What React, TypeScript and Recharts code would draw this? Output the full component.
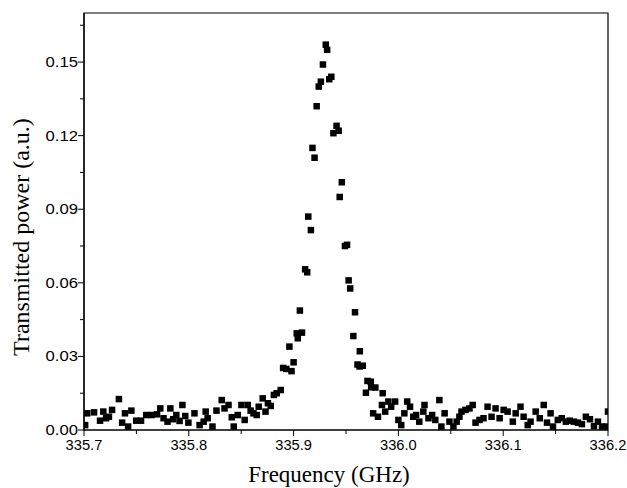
import { Label, ReferenceArea, Scatter, ScatterChart, XAxis, YAxis } from "recharts";

// Frequency (GHz) / transmitted power (a.u.)
const FREQ_LEFT = [
  335.7011, 335.7031, 335.7096, 335.7153, 335.7184, 335.7211, 335.7238, 335.7268, 335.7333, 335.7364,
  335.7391, 335.7421, 335.7452, 335.7498, 335.7544, 335.7594, 335.7644, 335.7697, 335.7728, 335.7759,
  335.7797, 335.7824, 335.7851, 335.7881, 335.7912, 335.7939, 335.7966, 335.7996, 335.8054, 335.8103,
  335.8142, 335.8161, 335.818, 335.8226, 335.8264, 335.8314, 335.8341, 335.8379, 335.841, 335.8429,
  335.8467, 335.8502, 335.8533, 335.8563, 335.859, 335.8617, 335.8648, 335.8667, 335.8705, 335.8732,
  335.8755, 335.8782, 335.8812, 335.8839, 335.8877,
];
const POWER_LEFT = [
  0.002, 0.0068, 0.0072, 0.0038, 0.0075, 0.0048, 0.0054, 0.0082, 0.0126, 0.003,
  0.0068, 0.0014, 0.0079, 0.0038, 0.0038, 0.0061, 0.0061, 0.0064, 0.0088, 0.0048,
  0.0034, 0.0088, 0.0044, 0.0061, 0.0037, 0.0102, 0.0057, 0.003, 0.0068, 0.002,
  0.0034, 0.0075, 0.0048, 0.0014, 0.0079, 0.0122, 0.0088, 0.0102, 0.0052, 0.0014,
  0.0061, 0.0102, 0.0041, 0.0102, 0.0079, 0.0068, 0.0061, 0.0095, 0.0129, 0.0075,
  0.0109, 0.0098, 0.0143, 0.015, 0.0163,
];

const FREQ_PEAK = [
  335.89, 335.893, 335.896, 335.898, 335.9, 335.903, 335.904, 335.906, 335.908, 335.911,
  335.913, 335.914, 335.9165, 335.918, 335.92, 335.922, 335.924, 335.926, 335.928, 335.9307,
  335.932, 335.934, 335.936, 335.938, 335.941, 335.943, 335.944, 335.946, 335.949, 335.951,
  335.9525, 335.954, 335.957, 335.9586, 335.961, 335.963, 335.9632, 335.966, 335.969, 335.9705,
  335.9736, 335.974, 335.978, 335.985,
];
const POWER_PEAK = [
  0.0253, 0.0249, 0.034, 0.024, 0.0276, 0.0394, 0.0374, 0.0487, 0.0397, 0.0655,
  0.0643, 0.087, 0.0815, 0.115, 0.111, 0.132, 0.14, 0.142, 0.149, 0.1571,
  0.155, 0.143, 0.144, 0.121, 0.124, 0.122, 0.095, 0.101, 0.075, 0.0755,
  0.061, 0.0577, 0.0383, 0.048, 0.0267, 0.0259, 0.0321, 0.0262, 0.0152, 0.02,
  0.0197, 0.0174, 0.0173, 0.015,
];

const FREQ_RIGHT = [
  335.9759, 335.9805, 335.9843, 335.9874, 335.9904, 335.9931, 335.9969, 336.0, 336.0027, 336.0057,
  336.0084, 336.0111, 336.0142, 336.0169, 336.0199, 336.0238, 336.0249, 336.0287, 336.0322, 336.0352,
  336.0391, 336.041, 336.0441, 336.0487, 336.0525, 336.0556, 336.0582, 336.0602, 336.064, 336.0678,
  336.0709, 336.0736, 336.0774, 336.0812, 336.0851, 336.0889, 336.0927, 336.0966, 336.1004, 336.1042,
  336.1092, 336.1119, 336.1165, 336.1195, 336.1234, 336.1261, 336.131, 336.1349, 336.1387, 336.1418,
  336.1452, 336.1475, 336.1521, 336.1559, 336.1598, 336.1636, 336.1674, 336.1713, 336.1751, 336.1789,
  336.1828, 336.1866, 336.1904, 336.1943, 336.1981, 336.2,
];
const POWER_RIGHT = [
  0.0068, 0.0054, 0.0102, 0.0075, 0.0116, 0.0095, 0.0116, 0.0041, 0.002, 0.0068,
  0.0116, 0.0095, 0.0054, 0.0061, 0.0034, 0.0075, 0.0102, 0.0048, 0.0061, 0.0041,
  0.0122, 0.0014, 0.0068, 0.0034, 0.0014, 0.0034, 0.0054, 0.0075, 0.0082, 0.0088,
  0.0102, 0.003, 0.0041, 0.0048, 0.0095, 0.0054, 0.0088, 0.0048, 0.0082, 0.0075,
  0.0034, 0.0068, 0.0095, 0.0054, 0.002, 0.0034, 0.0075, 0.0048, 0.0102, 0.003,
  0.0068, 0.0014, 0.0041, 0.0048, 0.0034, 0.0038, 0.0034, 0.003, 0.0024, 0.0054,
  0.0044, 0.0016, 0.0034, 0.0014, 0.0014, 0.0075,
];

const X_TICKS = [335.7, 335.75, 335.8, 335.85, 335.9, 335.95, 336.0, 336.05, 336.1, 336.15, 336.2];
const Y_TICKS = [0, 0.015, 0.03, 0.045, 0.06, 0.075, 0.09, 0.105, 0.12, 0.135, 0.15, 0.165];

const freqs = [...FREQ_LEFT, ...FREQ_PEAK, ...FREQ_RIGHT];
const powers = [...POWER_LEFT, ...POWER_PEAK, ...POWER_RIGHT];
const punkte = freqs.map((f, i) => ({ f, p: powers[i] }));

const SANS = "'Liberation Sans', Arial, sans-serif";
const SERIF = "'Liberation Serif', 'Times New Roman', serif";

function Quadrat(props: any) {
  const s = 6.5;
  return <rect x={props.cx - s / 2} y={props.cy - s / 2} width={s} height={s} fill="#000" />;
}

function XTick({ x, y, payload, index }: any) {
  const gross = index % 2 === 0;
  return (
    <g>
      <line x1={x} x2={x} y1={y} y2={y + (gross ? 6 : 4)} stroke="#000" strokeWidth={1} />
      {gross && (
        <text
          transform={`translate(${x},${y + 20}) scale(1.05,1)`}
          textAnchor="middle"
          fontFamily={SANS}
          fontSize={14}
          fill="#000"
        >
          {payload.value.toFixed(1)}
        </text>
      )}
    </g>
  );
}

function YTick({ x, y, payload, index }: any) {
  const gross = index % 2 === 0;
  return (
    <g>
      <line x1={x - (gross ? 6 : 4)} x2={x} y1={y} y2={y} stroke="#000" strokeWidth={1} />
      {gross && (
        <text
          transform={`translate(${x - 6},${y + 5}) scale(1.15,1)`}
          textAnchor="end"
          fontFamily={SANS}
          fontSize={14.5}
          fill="#000"
        >
          {payload.value.toFixed(2)}
        </text>
      )}
    </g>
  );
}

export default function App() {
  return (
    <div style={{ position: "absolute", left: 0, top: 0, background: "#fff" }}>
      <ScatterChart width={627} height={488} margin={{ top: 13, right: 19, bottom: 0, left: 0 }}>
        <XAxis
          dataKey="f"
          type="number"
          domain={[335.7, 336.2]}
          ticks={X_TICKS}
          interval={0}
          height={58}
          tickSize={0}
          tickMargin={0}
          tickLine={false}
          tick={<XTick />}
          axisLine={{ stroke: "#000", strokeWidth: 1.2 }}
          allowDataOverflow
        >
          <Label
            content={() => (
              <text x={329} y={482} textAnchor="middle" fontFamily={SERIF} fontSize={23} fill="#000">
                Frequency (GHz)
              </text>
            )}
          />
        </XAxis>
        <YAxis
          dataKey="p"
          type="number"
          domain={[0, 0.17]}
          ticks={Y_TICKS}
          interval={0}
          width={84}
          tickSize={0}
          tickMargin={0}
          tickLine={false}
          tick={<YTick />}
          axisLine={{ stroke: "#000", strokeWidth: 1.2 }}
          allowDataOverflow
        >
          <Label
            content={() => (
              <text
                transform="translate(29,237) rotate(-90)"
                textAnchor="middle"
                fontFamily={SERIF}
                fontSize={24}
                fill="#000"
                style={{ fill: "#000" }}
              >
                Transmitted power (a.u.)
              </text>
            )}
          />
        </YAxis>
        <ReferenceArea
          x1={335.7}
          x2={336.2}
          y1={0}
          y2={0.17}
          fill="none"
          fillOpacity={0}
          stroke="#000"
          strokeWidth={1.2}
          strokeOpacity={1}
        />
        <Scatter data={punkte} shape={<Quadrat />} isAnimationActive={false} />
      </ScatterChart>
    </div>
  );
}
